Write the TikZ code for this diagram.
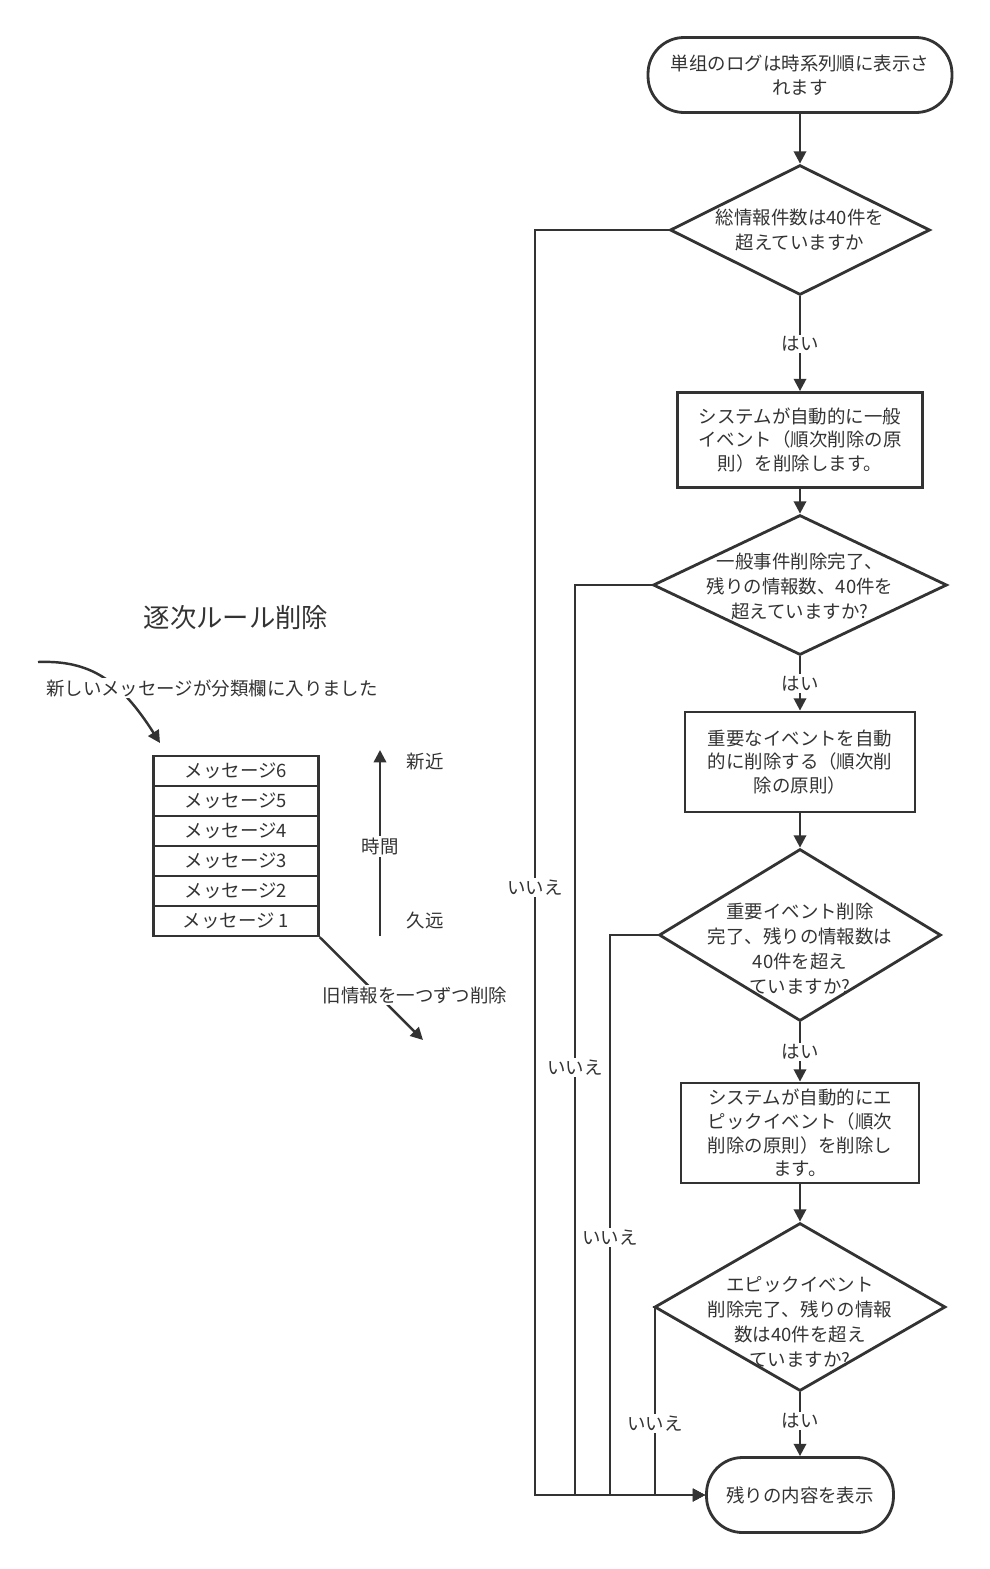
\documentclass[tikz,border=0pt]{standalone}
\usepackage{fontspec}
\setmainfont{Noto Sans CJK JP}
\usetikzlibrary{shapes.geometric, arrows.meta, positioning}
\definecolor{ink}{RGB}{51, 51, 51}
\newcommand*{\dtext}[2][0cm]{\smash{\makebox[0pt]{\setlength{\tabcolsep}{0pt}%
  \renewcommand{\arraystretch}{1.05}\raisebox{-#1}{\begin{tabular}{c}#2\end{tabular}}}}}

\tikzset{
  base/.style={draw=ink, line width=1.6pt, text=ink, align=center, font=\fontsize{10.5}{13.5}\selectfont},
  term/.style={base, rounded corners=0.72cm, minimum height=1.5cm},
  proc/.style={base, rectangle, minimum height=1.9cm},
  cond/.style={base, diamond, inner sep=0pt},
  slot/.style={draw=ink, line width=1.4pt, text=ink, minimum width=3.3cm, minimum height=0.6cm,
    inner sep=0pt, font=\fontsize{10.5}{12}\selectfont},
  flow/.style={ink, line width=1.4pt, -{Triangle[length=7pt, width=7pt]}},
  lbl/.style={text=ink, fill=white, inner sep=1pt, font=\fontsize{10.5}{12}\selectfont}
}

\begin{document}
\begin{tikzpicture}[x=0.02cm, y=-0.02cm]
  \useasboundingbox (0, 0) rectangle (990, 1569);

  % flow chart
  \node[term, minimum width=6.08cm] (start) at (800, 75) {単组のログは時系列順に表示さ\\れます};
  \node[cond, minimum width=5.2cm, minimum height=2.6cm] (q1) at (800, 230)
    {\dtext[0.14cm]{総情報件数は40件を\\超えていますか}};
  \node[proc, minimum width=4.9cm] (del1) at (800, 440) {システムが自動的に一般\\イベント（順次削除の原\\則）を削除します。};
  \node[cond, minimum width=5.88cm, minimum height=2.8cm] (q2) at (800, 585)
    {\dtext[0.16cm]{一般事件削除完了、\\残りの情報数、40件を\\超えていますか?}};
  \node[proc, minimum width=4.6cm, minimum height=2cm] (del2) at (800, 762) {重要なイベントを自動\\的に削除する（順次削\\除の原則）};
  \node[cond, minimum width=5.64cm, minimum height=3.44cm] (q3) at (800, 935)
    {\dtext[0.42cm]{重要イベント削除\\完了、残りの情報数は\\40件を超え\\ていますか?}};
  \node[proc, minimum width=4.76cm, minimum height=2cm] (del3) at (800, 1133) {システムが自動的にエ\\ピックイベント（順次\\削除の原則）を削除し\\ます。};
  \node[cond, minimum width=5.82cm, minimum height=3.36cm] (q4) at (800, 1307)
    {\dtext[0.44cm]{エピックイベント\\削除完了、残りの情報\\数は40件を超え\\ていますか?}};
  \node[term, minimum width=3.74cm] (done) at (800, 1495) {残りの内容を表示};

  \draw[flow] (start) -- (q1);
  \draw[flow] (q1) -- node[lbl] {はい} (del1);
  \draw[flow] (del1) -- (q2);
  \draw[flow] (q2) -- node[lbl] {はい} (del2);
  \draw[flow] (del2) -- (q3);
  \draw[flow] (q3) -- node[lbl] {はい} (del3);
  \draw[flow] (del3) -- (q4);
  \draw[flow] (q4) -- node[lbl, pos=0.45] {はい} (done);

  \draw[flow] (q1.west) -| (535, 1495) node[lbl, pos=0.76] {いいえ} -- (done.west);
  \draw[flow] (q2.west) -| (575, 1495) node[lbl, pos=0.765] {いいえ} -- (done.west);
  \draw[flow] (q3.west) -| (610, 1495) node[lbl, pos=0.77] {いいえ} -- (done.west);
  \draw[flow] (q4.west) -| (655, 1495) node[lbl, pos=0.81] {いいえ} -- (done.west);

  % message stack
  \node[text=ink, font=\fontsize{15}{18}\selectfont] (title) at (236, 617) {逐次ルール削除};
  \node[slot] (m6) at (236, 771) {メッセージ6};
  \node[slot, below=-1.4pt of m6] (m5) {メッセージ5};
  \node[slot, below=-1.4pt of m5] (m4) {メッセージ4};
  \node[slot, below=-1.4pt of m4] (m3) {メッセージ3};
  \node[slot, below=-1.4pt of m3] (m2) {メッセージ2};
  \node[slot, below=-1.4pt of m2] (m1) {メッセージ 1};

  \coordinate (inflow) at (38, 662);
  \coordinate (intop) at (160, 743);
  \coordinate (outflow) at (423, 1040);
  \coordinate (old) at (380, 936);
  \coordinate (new) at (380, 750);
  \draw[flow] (inflow) .. controls (90, 660) and (120, 680) .. (intop);
  \node[lbl] (inlabel) at (212, 688) {新しいメッセージが分類欄に入りました};
  \draw[flow] (m1.south east) -- (outflow);
  \node[lbl] (outlabel) at (415, 995) {旧情報を一つずつ削除};
  \draw[flow] (old) -- (new) node[lbl, pos=0.48] {時間};
  \node[text=ink, font=\fontsize{10.5}{12}\selectfont] (recent) at (425, 762) {新近};
  \node[text=ink, font=\fontsize{10.5}{12}\selectfont] (past) at (425, 921) {久远};
\end{tikzpicture}
\end{document}
